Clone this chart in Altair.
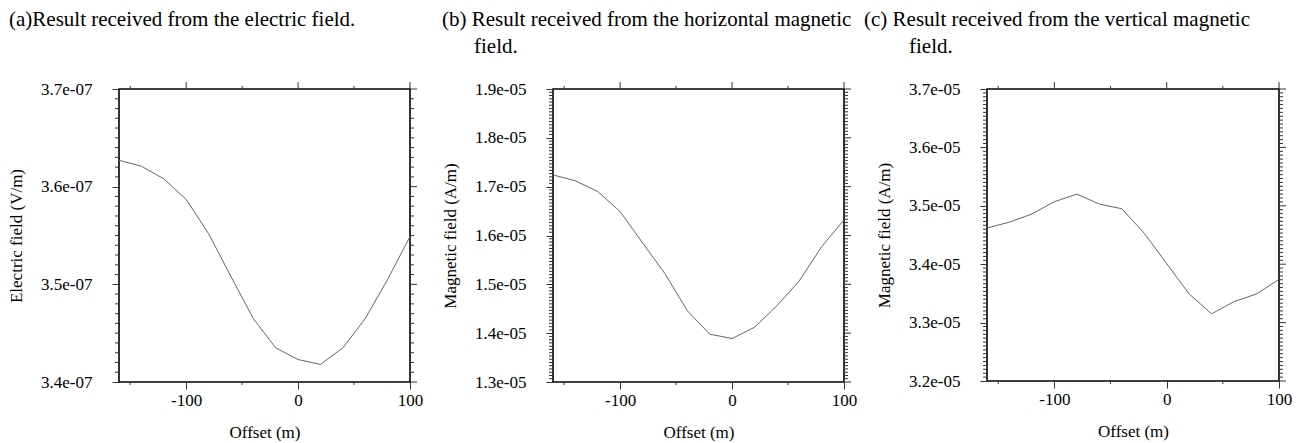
import altair as alt
import pandas as pd

# ---- survey profile: offsets along the line (m) ----
OFFSET = [-160, -140, -120, -100, -80, -60, -40, -20, 0, 20, 40, 60, 80, 100]

# (a) electric field (V/m)
E_FIELD = [3.627e-07, 3.621e-07, 3.608e-07, 3.587e-07, 3.552e-07, 3.508e-07, 3.465e-07,
           3.435e-07, 3.423e-07, 3.418e-07, 3.435e-07, 3.465e-07, 3.505e-07, 3.549e-07]
# (b) horizontal magnetic field (A/m)
H_HORIZONTAL = [1.724e-05, 1.712e-05, 1.690e-05, 1.649e-05, 1.585e-05, 1.522e-05, 1.446e-05,
                1.398e-05, 1.389e-05, 1.412e-05, 1.456e-05, 1.507e-05, 1.577e-05, 1.632e-05]
# (c) vertical magnetic field (A/m)
H_VERTICAL = [3.462e-05, 3.472e-05, 3.486e-05, 3.507e-05, 3.520e-05, 3.503e-05, 3.495e-05,
              3.453e-05, 3.401e-05, 3.349e-05, 3.315e-05, 3.336e-05, 3.349e-05, 3.374e-05]

# ---- axes ----
X_DOMAIN = [-160, 100]
X_MAJOR = [-100, 0, 100]
X_MINOR = [-150, -50, 50]

Y_A_DOMAIN = [3.4e-07, 3.7e-07]
Y_A_MAJOR = [3.4e-07, 3.5e-07, 3.6e-07, 3.7e-07]
Y_A_LABELS = ["3.4e-07", "3.5e-07", "3.6e-07", "3.7e-07"]

Y_B_DOMAIN = [1.3e-05, 1.9e-05]
Y_B_MAJOR = [1.3e-05, 1.4e-05, 1.5e-05, 1.6e-05, 1.7e-05, 1.8e-05, 1.9e-05]
Y_B_LABELS = ["1.3e-05", "1.4e-05", "1.5e-05", "1.6e-05", "1.7e-05", "1.8e-05", "1.9e-05"]

Y_C_DOMAIN = [3.2e-05, 3.7e-05]
Y_C_MAJOR = [3.2e-05, 3.3e-05, 3.4e-05, 3.5e-05, 3.6e-05, 3.7e-05]
Y_C_LABELS = ["3.2e-05", "3.3e-05", "3.4e-05", "3.5e-05", "3.6e-05", "3.7e-05"]

CAPTION_A = ["(a)Result received from the electric field."]
CAPTION_B = ["(b) Result received from the horizontal magnetic", "field."]
CAPTION_C = ["(c) Result received from the vertical magnetic", "field."]

FONT = "Liberation Serif"
TICK_COLOR = "#333333"
LINE_COLOR = "#666666"


def minor_ticks(domain, per_major, major_step):
    step = major_step / per_major
    n = int(round((domain[1] - domain[0]) / step))
    return [domain[0] + i * step for i in range(n + 1) if i % per_major != 0]


def label_expr(values, labels):
    eps = (values[1] - values[0]) / 100
    expr = "''"
    for v, lab in zip(reversed(values), reversed(labels)):
        expr = f"abs(datum.value - {v!r}) < {eps!r} ? '{lab}' : ({expr})"
    return expr


def tick_rules(values, xscale, yscale, orient, length, w, h):
    df = pd.DataFrame({"v": values})
    base = alt.Chart(df).mark_rule(color=TICK_COLOR, strokeWidth=1)
    if orient in ("top", "bottom"):
        y0 = 0 if orient == "top" else h
        y1 = -length if orient == "top" else h + length
        return base.encode(
            x=alt.X("v:Q", scale=xscale),
            y=alt.value(y0), y2=alt.value(y1),
        )
    x0 = 0 if orient == "left" else w
    x1 = -length if orient == "left" else w + length
    return base.encode(
        y=alt.Y("v:Q", scale=yscale),
        x=alt.value(x0), x2=alt.value(x1),
    )


def panel(values, y_domain, y_major, y_labels, y_per_major, y_title, caption,
          caption_x, caption_y, w, h):
    xscale = alt.Scale(domain=X_DOMAIN, nice=False, zero=False)
    yscale = alt.Scale(domain=y_domain, nice=False, zero=False)
    df = pd.DataFrame({"offset": OFFSET, "value": values})

    line = alt.Chart(df).mark_line(color=LINE_COLOR, strokeWidth=1).encode(
        x=alt.X("offset:Q", scale=xscale, axis=alt.Axis(
            values=X_MAJOR, labelExpr="datum.value + ''", title="Offset (m)",
            tickSize=7, labelPadding=3, labelFlush=False,
            titleX=w / 2, titleY=55, titleBaseline="alphabetic",
        )),
        y=alt.Y("value:Q", scale=yscale, axis=alt.Axis(
            values=y_major, labelExpr=label_expr(y_major, y_labels), title=y_title,
            tickSize=7, labelPadding=20, labelFlush=False,
            titleX=-98, titleY=h / 2, titleAngle=270, titleBaseline="alphabetic",
            titleAlign="center",
        )),
    )

    y_step = y_major[1] - y_major[0]
    y_minor = minor_ticks(y_domain, y_per_major, y_step)

    layers = [
        line,
        tick_rules(X_MAJOR, xscale, yscale, "top", 7, w, h),
        tick_rules(X_MINOR, xscale, yscale, "top", 3, w, h),
        tick_rules(X_MINOR, xscale, yscale, "bottom", 3, w, h),
        tick_rules(y_minor, xscale, yscale, "left", 4, w, h),
        tick_rules(y_major, xscale, yscale, "right", 7, w, h),
        tick_rules(y_minor, xscale, yscale, "right", 4, w, h),
    ]
    for i, text in enumerate(caption):
        layers.append(
            alt.Chart(pd.DataFrame({"t": [text]})).mark_text(
                align="left", baseline="alphabetic", font=FONT, fontSize=21, color="black",
            ).encode(text="t:N", x=alt.value(caption_x[i]), y=alt.value(caption_y[i]))
        )
    return alt.layer(*layers).properties(width=w, height=h)


pa = panel(E_FIELD, Y_A_DOMAIN, Y_A_MAJOR, Y_A_LABELS, 10, "Electric field (V/m)",
           CAPTION_A, [-110], [-63], 291, 293)
pb = panel(H_HORIZONTAL, Y_B_DOMAIN, Y_B_MAJOR, Y_B_LABELS, 15, "Magnetic field (A/m)",
           CAPTION_B, [-111, -79], [-63.5, -36], 291, 293)
pc = panel(H_VERTICAL, Y_C_DOMAIN, Y_C_MAJOR, Y_C_LABELS, 15, "Magnetic field (A/m)",
           CAPTION_C, [-123, -78], [-63.5, -36], 292, 292)

chart = alt.hconcat(pa, pb, pc, spacing=143, bounds="flush").properties(
    padding={"left": 6, "top": 7, "right": 0, "bottom": 0},
    background="white",
).configure_view(
    stroke="black", strokeWidth=1.6
).configure_axis(
    grid=False, domain=False, tickColor=TICK_COLOR, tickWidth=1,
    labelFont=FONT, labelFontSize=17, labelColor="black",
    titleFont=FONT, titleFontSize=17, titleFontWeight="normal", titleColor="black",
)

chart.save("out.html", embed_options={"renderer": "svg", "actions": False})
